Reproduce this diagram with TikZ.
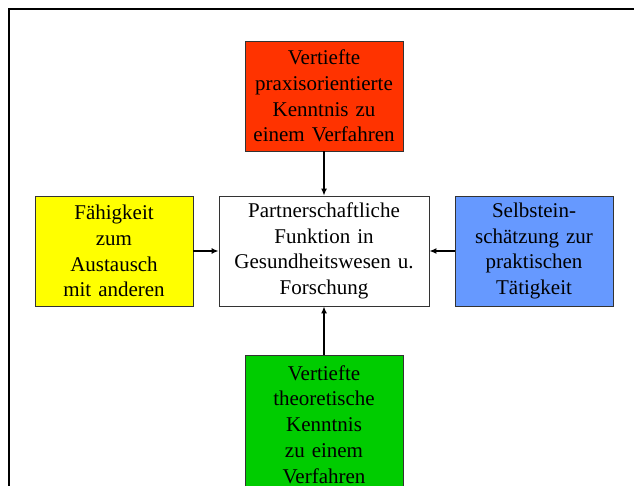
\documentclass[tikz,border=0pt]{standalone}
\usepackage{fontspec}
\setmainfont{Liberation Serif}
\usetikzlibrary{arrows.meta,positioning}
\definecolor{boxred}{HTML}{FF3300}
\definecolor{boxyellow}{HTML}{FFFF00}
\definecolor{boxblue}{HTML}{6699FF}
\definecolor{boxgreen}{HTML}{00CC00}
\begin{document}
\begin{tikzpicture}[x=1pt,y=-1pt,
    box/.style={draw=black!80,line width=0.8pt,inner sep=0pt,align=center,
        minimum height=110pt,text width=158pt,
        font=\fontsize{21}{25.7}\selectfont},
    link/.style={-{Latex[length=7pt,width=6pt]},line width=1.4pt}]
\useasboundingbox (0,0) rectangle (634,486);
% Frame
\draw[line width=2pt] (9,9) rectangle (650,500);

% Central box
\node[box,fill=white,text width=210pt] (center) at (324,251)
    {Partnerschaftliche\\Funktion in\\Gesundheitswesen u.\\Forschung};

% Surrounding boxes
\node[box,fill=boxred] (praxis) at (324,96)
    {Vertiefte\\praxisorientierte\\Kenntnis zu\\einem Verfahren};
\node[box,fill=boxyellow] (austausch) at (114,251)
    {F\"ahigkeit\\zum\\Austausch\\mit anderen};
\node[box,fill=boxblue] (selbst) at (534,251)
    {Selbstein-\\sch\"atzung zur\\praktischen\\T\"atigkeit};
\node[box,fill=boxgreen,anchor=north,minimum height=138pt] (theorie) at (324,355)
    {Vertiefte\\theoretische\\Kenntnis\\zu einem\\Verfahren};

% Arrows
\draw[link] (praxis) -- (center);
\draw[link] (theorie) -- (center);
\draw[link] (austausch) -- (center);
\draw[link] (selbst) -- (center);
\end{tikzpicture}
\end{document}
